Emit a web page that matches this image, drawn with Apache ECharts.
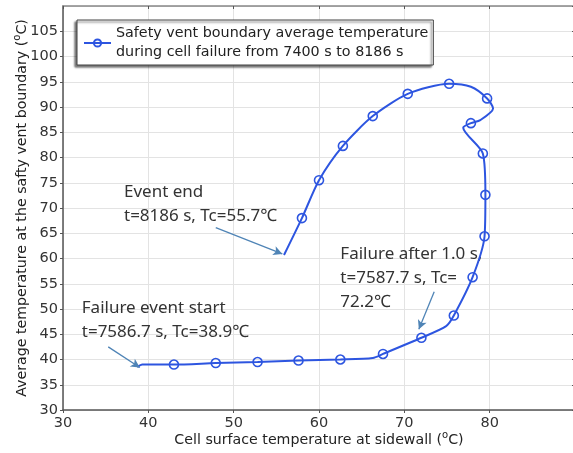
<!DOCTYPE html>
<html>
<head>
<meta charset="utf-8">
<script src="https://cdn.jsdelivr.net/npm/echarts@6/dist/echarts.min.js"></script>
<style>
  html, body { margin: 0; padding: 0; background: #fff; }
  #chart { width: 573px; height: 453px; }
</style>
</head>
<body>
<div id="chart"></div>
<script>
// curve vertices, in time order (cell sidewall temp, vent boundary temp)
const pathX = [38.7, 39.3, 43.0, 47.9, 52.8, 57.6, 62.5, 66.3, 67.5, 72.0, 74.9, 75.8, 78.0, 79.4, 79.5, 79.2, 76.9, 77.8, 78.9, 80.4, 79.7, 77.8, 75.25, 70.4, 66.3, 62.8, 60.0, 58.0, 55.9];
const pathY = [38.5, 39.0, 39.0, 39.3, 39.5, 39.8, 40.0, 40.3, 41.1, 44.3, 46.6, 48.7, 56.3, 64.4, 72.6, 80.8, 85.9, 86.8, 87.4, 89.7, 91.7, 94.0, 94.6, 92.6, 88.2, 82.3, 75.5, 68.0, 60.7];
// which vertices carry a marker
const markerIdx = [2, 3, 4, 5, 6, 8, 9, 11, 12, 13, 14, 15, 17, 20, 22, 23, 24, 25, 26, 27];

const seriesName = "Safety vent boundary average temperature\nduring cell failure from 7400 s to 8186 s";

// annotations: text anchor (top-left) and arrow from -> to, in data units
const notes = [
  { text: "Event end\nt=8186 s, Tc=55.7℃", at: [37.15, 75.6], from: [47.9, 66.1], to: [55.7, 60.9] },
  { text: "Failure after 1.0 s,\nt=7587.7 s, Tc=\n72.2℃", at: [62.5, 63.3], from: [73.5, 53.4], to: [71.7, 46.0] },
  { text: "Failure event start\nt=7586.7 s, Tc=38.9℃", at: [32.2, 52.6], from: [35.3, 42.5], to: [39.0, 38.4] },
];

const blue = "#2d55e0";
const arrowColor = "#4f84b6";
const gridColor = "#e3e3e3";
const axisColor = "#555";

const seriesData = pathX.map((x, i) => ({
  value: [x, pathY[i]],
  symbol: markerIdx.includes(i) ? "circle" : "none",
}));

const chart = echarts.init(document.getElementById("chart"));

const labelFont = { fontFamily: "DejaVu Sans", fontSize: 14.5, color: "#333" };
const nameStyle = {
  fontFamily: "DejaVu Sans",
  fontSize: 14.2,
  color: "#222",
  lineHeight: 20,
  rich: { s: { fontFamily: "DejaVu Sans", fontSize: 10, lineHeight: 10, verticalAlign: "top", color: "#222" } },
};

chart.setOption({
  animation: false,
  grid: { left: 63, top: 6, width: 512, height: 404, outerBoundsMode: "none", containLabel: false },
  legend: {
    data: [seriesName],
    left: 77,
    top: 20,
    orient: "vertical",
    padding: [4, 5, 3, 6],
    itemWidth: 27,
    itemHeight: 9,
    itemGap: 5,
    backgroundColor: "#fff",
    borderColor: "#444",
    borderWidth: 1,
    borderRadius: 0,
    shadowColor: "rgba(0,0,0,0.55)",
    shadowBlur: 2,
    shadowOffsetX: -2,
    shadowOffsetY: 2,
    textStyle: { fontFamily: "DejaVu Sans", fontSize: 14.3, color: "#222", lineHeight: 19 },
  },
  xAxis: [
    {
      type: "value",
      min: 30,
      max: 90,
      interval: 10,
      name: "Cell surface temperature at sidewall ({s|o}C)",
      nameLocation: "middle",
      nameGap: 20,
      nameMoveOverlap: false,
      nameTextStyle: nameStyle,
      axisLine: { show: true, lineStyle: { color: axisColor, width: 1.5 } },
      axisTick: { show: true, length: 3, lineStyle: { color: axisColor } },
      axisLabel: Object.assign({ margin: 6, showMaxLabel: false }, labelFont),
      splitLine: { show: true, lineStyle: { color: gridColor } },
    },
    {
      type: "value",
      position: "top",
      min: 30,
      max: 90,
      interval: 10,
      axisLine: { show: true, lineStyle: { color: "#888", width: 1.5 } },
      axisTick: { show: true, inside: true, length: 3, lineStyle: { color: axisColor } },
      axisLabel: { show: false },
      splitLine: { show: false },
    },
  ],
  yAxis: [
    {
      type: "value",
      min: 30,
      max: 110,
      interval: 5,
      name: "Average temperature at the safty vent boundary ({s|o}C)",
      nameLocation: "middle",
      nameGap: 31,
      nameMoveOverlap: false,
      nameTextStyle: nameStyle,
      axisLine: { show: true, lineStyle: { color: axisColor, width: 1.5 } },
      axisTick: { show: true, length: 3, lineStyle: { color: axisColor } },
      axisLabel: Object.assign({ margin: 5, showMaxLabel: false }, labelFont),
      splitLine: { show: true, lineStyle: { color: gridColor } },
    },
    {
      type: "value",
      position: "right",
      min: 30,
      max: 110,
      interval: 5,
      axisLine: { show: true, lineStyle: { color: "#888" } },
      axisTick: { show: true, inside: true, length: 3, lineStyle: { color: axisColor } },
      axisLabel: { show: false },
      splitLine: { show: false },
    },
  ],
  series: [
    {
      name: seriesName,
      type: "line",
      data: seriesData,
      symbol: "circle",
      symbolSize: 9,
      showSymbol: true,
      showAllSymbol: true,
      smooth: 0.25,
      lineStyle: { color: blue, width: 2 },
      itemStyle: { color: "rgba(255,255,255,0)", borderColor: blue, borderWidth: 1.6 },
      emphasis: { disabled: true },
      markLine: {
        silent: true,
        symbol: ["none", "arrow"],
        symbolSize: [7, 9],
        label: { show: false },
        lineStyle: { color: arrowColor, width: 1.3, type: "solid" },
        data: notes.map((n) => [{ coord: n.from }, { coord: n.to }]),
      },
    },
  ],
});

// annotation texts placed through the axes
const graphics = notes.map((n) => {
  const p = chart.convertToPixel({ xAxisIndex: 0, yAxisIndex: 0 }, n.at);
  return {
    type: "text",
    left: p[0],
    top: p[1],
    silent: true,
    style: {
      text: n.text,
      fontFamily: "Noto Sans, Noto Sans CJK SC",
      fontSize: 17,
      lineHeight: 24,
      fill: "#333",
    },
  };
});
chart.setOption({ graphic: graphics });

window.addEventListener("resize", () => chart.resize());
</script>
</body>
</html>
